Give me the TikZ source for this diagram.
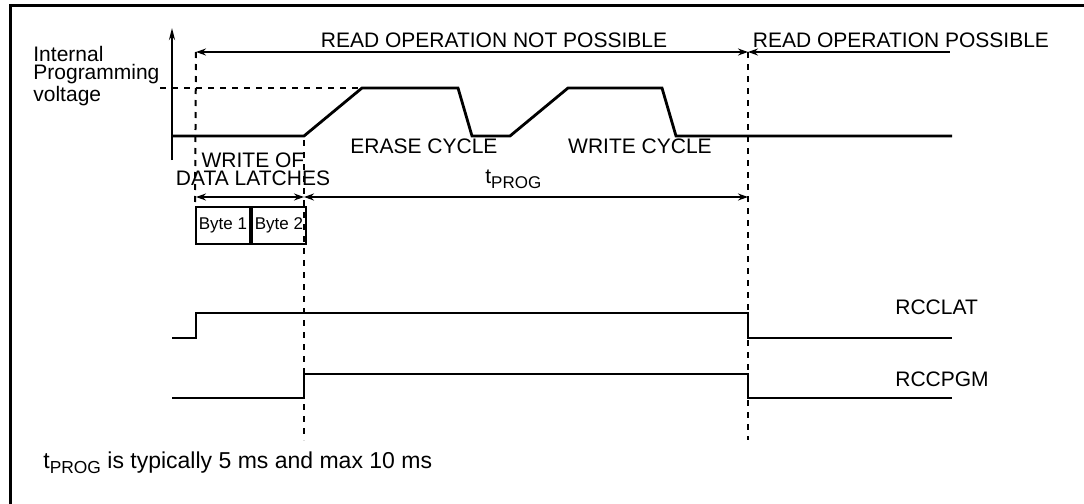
\documentclass[tikz,border=0pt]{standalone}
\usepackage{fontspec}
\setmainfont{Liberation Sans}
\usetikzlibrary{arrows.meta, positioning, calc}

\newcommand{\tprogsym}[1]{t\raisebox{-2.5pt}{\fontsize{#1}{9}\selectfont PROG}}

\begin{document}
\begin{tikzpicture}[x=0.5pt, y=-0.5pt, >=Stealth, font=\fontsize{10.5}{9}\selectfont,
    wave/.style={line width=1.4pt, line join=miter},
    marker/.style={line width=1pt, dash pattern=on 3pt off 3pt},
    span/.style={line width=1pt, {Stealth[length=5pt,width=3.5pt]}-{Stealth[length=5pt,width=3.5pt]}},
    lbl/.style={inner sep=0pt, anchor=base},
    bytebox/.style={draw, line width=1pt, minimum width=27pt, minimum height=18.5pt,
      inner sep=0pt, font=\fontsize{8.5}{10}\selectfont}]

  \useasboundingbox (0,0) rectangle (1084,504);

  % Frame
  \draw[line width=1.5pt] (10,530) -- (10,5) -- (1100,5);

  % Time marks
  \coordinate (tA) at (196,52);
  \coordinate (tB) at (748,52);
  \coordinate (tC) at (950,52);
  \coordinate (wA) at (196,197);
  \coordinate (wB) at (304,197);
  \coordinate (wC) at (748,197);
  \coordinate (mBtop) at (304,140);
  \coordinate (mBend) at (304,440);
  \coordinate (mCend) at (748,440);
  \coordinate (origin) at (172,160);
  \coordinate (ytop) at (172,28);

  % Byte boxes
  \node[bytebox] (b1) at (223,225.5) {Byte 1};
  \node[bytebox, right=0pt of b1] (b2) {Byte 2};

  % Dashed markers
  \draw[marker] (tA) -- (b1.north west);
  \draw[marker] (mBtop) -- (mBend);
  \draw[marker] (tB) -- (mCend);
  \draw[marker] (160,88) -- (362,88);

  % Voltage axis and waveform
  \draw[line width=1pt, -{Stealth[length=6pt,width=3pt]}] (origin) -- (ytop);
  \draw[wave] (172,136) -- (304,136) -- (362,88) -- (458,88) -- (472,136) -- (510,136)
    -- (568,88) -- (662,88) -- (676,136) -- (952,136);

  % Control signals
  \draw[wave] (172,338) -- (196,338) -- (196,313) -- (748,313) -- (748,338) -- (952,338);
  \draw[wave] (172,398) -- (304,398) -- (304,374) -- (748,374) -- (748,398) -- (952,398);

  % Spans
  \draw[span] (tA) -- (tB);
  \draw[line width=1pt, {Stealth[length=5pt,width=3.5pt]}-] (tB) -- (tC);
  \draw[span] (wA) -- (wB);
  \draw[span] (wB) -- (wC);

  % Labels
  \node[lbl] (notposs) at (494,47) {READ OPERATION NOT POSSIBLE};
  \node[lbl] (poss) at (901,47) {READ OPERATION POSSIBLE};
  \node[inner sep=0pt, anchor=north west, align=left] (ylabel) at (33,46)
    {Internal\\Programming\\voltage};
  \node[lbl] (erase) at (424,153) {ERASE CYCLE};
  \node[lbl] (write) at (640,153) {WRITE CYCLE};
  \node[inner sep=0pt, anchor=north, align=center] (latch) at (253,152)
    {WRITE OF\\DATA LATCHES};
  \node[lbl, anchor=base west] (tprog) at (485,183) {\tprogsym{8.5}};
  \node[lbl, anchor=base west] (rcclat) at (895,314) {RCCLAT};
  \node[lbl, anchor=base west] (rccpgm) at (895,386) {RCCPGM};
  \node[lbl, anchor=base west, font=\fontsize{11.5}{12}\selectfont] (note) at (43,468)
    {\tprogsym{8.7} is typically 5 ms and max 10 ms};

\end{tikzpicture}
\end{document}
